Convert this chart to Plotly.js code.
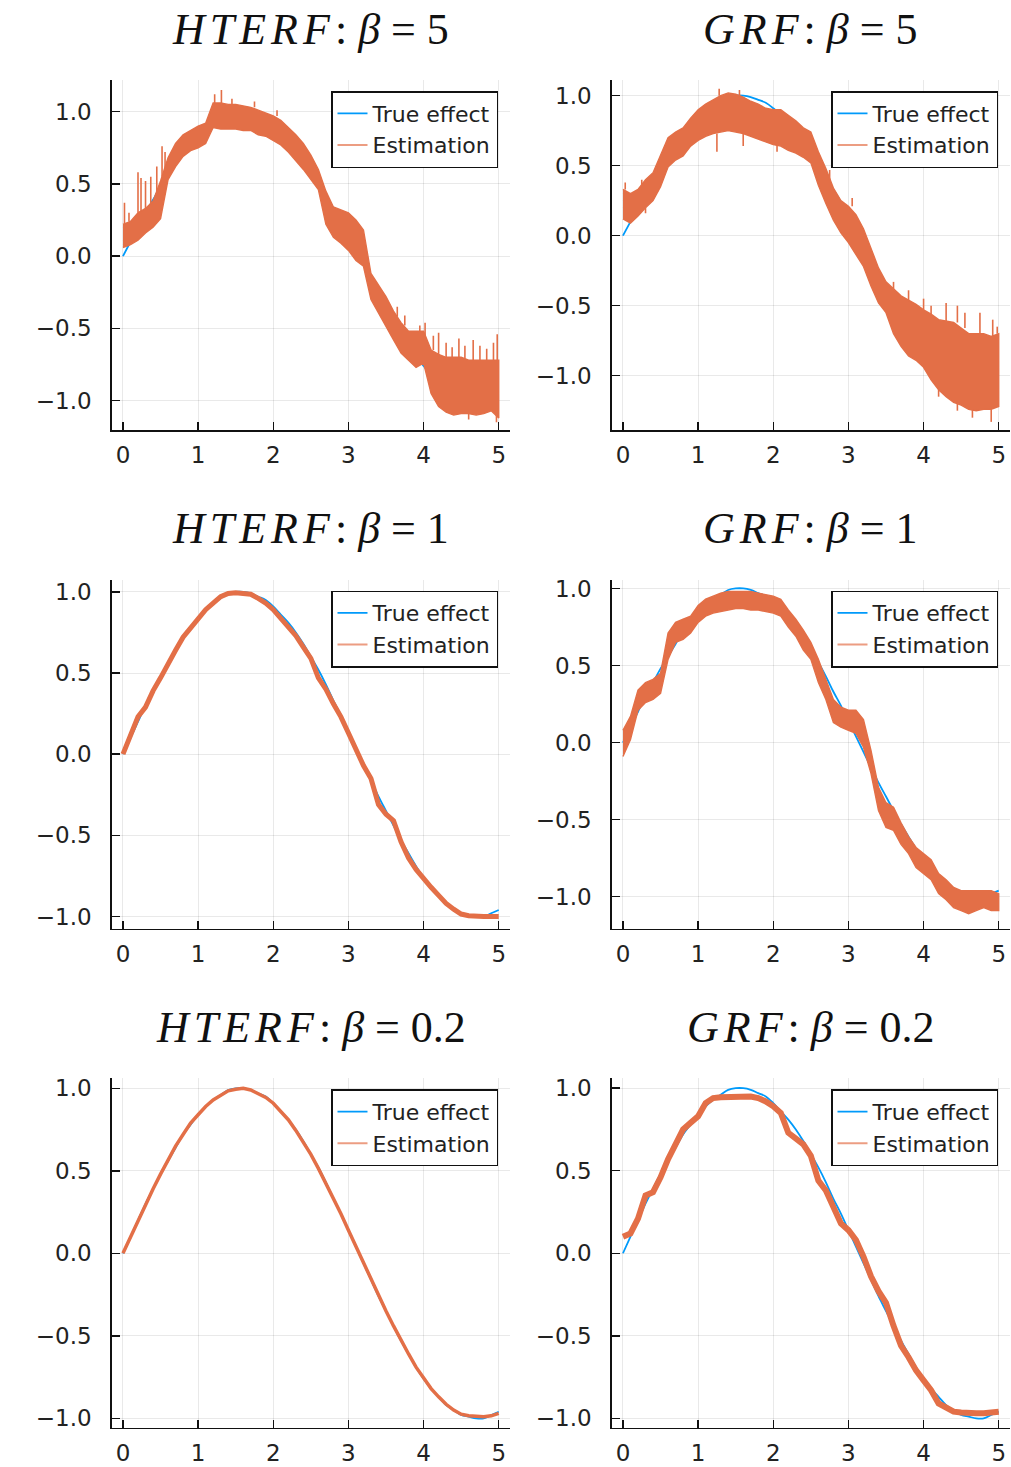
<!DOCTYPE html>
<html>
<head>
<meta charset="utf-8">
<script src="https://cdn.plot.ly/plotly-3.0.1.min.js"></script>
<style>html,body{margin:0;padding:0;background:#fff;}#chart{width:1011px;height:1467px;}</style>
</head>
<body>
<div id="chart"></div>
<script>
// ---- data ----
const xs = [0,0.1,0.2,0.3,0.4,0.5,0.6,0.7,0.8,0.9,1,1.1,1.2,1.3,1.4,1.5,1.6,1.7,1.8,1.9,2,2.1,2.2,2.3,2.4,2.5,2.6,2.7,2.8,2.9,3,3.1,3.2,3.3,3.4,3.5,3.6,3.7,3.8,3.9,4,4.1,4.2,4.3,4.4,4.5,4.6,4.7,4.8,4.9,5];

const trueEffect = [0.00,0.10,0.20,0.30,0.39,0.48,0.56,0.64,0.72,0.78,0.84,0.89,0.93,0.96,0.99,1.00,1.00,0.99,0.97,0.95,0.91,0.86,0.81,0.75,0.68,0.60,0.52,0.43,0.33,0.24,0.14,0.04,-0.06,-0.16,-0.26,-0.35,-0.44,-0.53,-0.61,-0.69,-0.76,-0.82,-0.87,-0.92,-0.95,-0.98,-0.99,-1.00,-1.00,-0.98,-0.96];

// HTERF beta = 5 : band of the noisy estimate
const hterf5Upper = [0.22,0.24,0.30,0.33,0.38,0.52,0.68,0.78,0.84,0.87,0.90,0.92,1.06,1.06,1.05,1.05,1.04,1.03,1.01,0.99,0.97,0.94,0.89,0.84,0.78,0.70,0.60,0.45,0.34,0.32,0.30,0.25,0.18,-0.12,-0.20,-0.28,-0.38,-0.46,-0.52,-0.52,-0.52,-0.65,-0.68,-0.70,-0.70,-0.70,-0.72,-0.72,-0.72,-0.72,-0.72];
const hterf5Lower = [0.06,0.08,0.11,0.16,0.20,0.26,0.53,0.62,0.69,0.73,0.75,0.78,0.89,0.88,0.88,0.88,0.87,0.87,0.84,0.83,0.80,0.77,0.72,0.66,0.60,0.53,0.46,0.22,0.13,0.09,0.04,-0.03,-0.07,-0.30,-0.40,-0.49,-0.58,-0.67,-0.72,-0.77,-0.74,-0.95,-1.04,-1.08,-1.10,-1.09,-1.09,-1.10,-1.09,-1.07,-1.12];
const hterf5SpikeX  = [0.02,0.08,0.20,0.24,0.30,0.37,0.45,0.52,0.56,1.22,1.31,1.45,1.75,2.05,3.65,3.75,3.95,4.02,4.13,4.20,4.30,4.38,4.47,4.55,4.66,4.75,4.84,4.93,4.98,4.97,4.60];
const hterf5SpikeLo = [0.22,0.24,0.30,0.31,0.33,0.36,0.42,0.55,0.60,1.06,1.06,1.05,1.03,0.97,-0.42,-0.48,-0.52,-0.55,-0.65,-0.68,-0.70,-0.70,-0.70,-0.71,-0.72,-0.72,-0.72,-0.72,-0.72,-1.05,-1.09];
const hterf5SpikeHi = [0.37,0.30,0.58,0.54,0.52,0.55,0.62,0.76,0.72,1.12,1.15,1.09,1.07,1.01,-0.35,-0.41,-0.48,-0.46,-0.55,-0.53,-0.60,-0.63,-0.57,-0.62,-0.58,-0.62,-0.64,-0.60,-0.54,-1.15,-1.13];

// GRF beta = 5
const grf5Upper = [0.33,0.30,0.33,0.40,0.45,0.57,0.70,0.74,0.77,0.84,0.90,0.94,0.97,1.00,1.02,1.01,0.99,0.96,0.94,0.91,0.90,0.90,0.86,0.82,0.77,0.74,0.60,0.48,0.34,0.25,0.21,0.15,0.05,-0.09,-0.23,-0.33,-0.38,-0.43,-0.46,-0.49,-0.53,-0.56,-0.60,-0.61,-0.62,-0.66,-0.70,-0.70,-0.70,-0.72,-0.70];
const grf5Lower = [0.12,0.09,0.14,0.20,0.25,0.35,0.49,0.54,0.57,0.64,0.68,0.71,0.73,0.74,0.75,0.74,0.73,0.71,0.69,0.67,0.65,0.64,0.61,0.59,0.56,0.52,0.36,0.23,0.11,0.02,-0.05,-0.13,-0.22,-0.36,-0.48,-0.55,-0.70,-0.79,-0.86,-0.89,-0.94,-1.03,-1.10,-1.15,-1.19,-1.21,-1.24,-1.25,-1.24,-1.24,-1.22];
const grf5SpikeX  = [0.03,0.25,0.45,0.30,1.28,1.55,1.25,1.60,2.05,2.75,3.05,3.60,3.80,4.00,4.10,4.30,4.45,4.55,4.75,4.92,4.98,4.90,4.65,4.20,4.45];
const grf5SpikeLo = [0.33,0.33,0.45,0.20,1.00,1.00,0.73,0.73,0.65,0.40,0.21,-0.38,-0.46,-0.53,-0.56,-0.61,-0.62,-0.66,-0.70,-0.72,-0.70,-1.24,-1.24,-1.10,-1.19];
const grf5SpikeHi = [0.38,0.40,0.50,0.16,1.05,1.04,0.60,0.64,0.60,0.47,0.27,-0.33,-0.39,-0.45,-0.50,-0.48,-0.50,-0.55,-0.55,-0.60,-0.65,-1.33,-1.30,-1.15,-1.25];

// HTERF beta = 1 (thin estimate)
const hterf1Est = [0.00,0.12,0.23,0.29,0.39,0.47,0.56,0.64,0.72,0.78,0.84,0.89,0.93,0.97,0.99,0.995,0.99,0.985,0.96,0.93,0.89,0.84,0.79,0.73,0.66,0.59,0.47,0.40,0.31,0.23,0.13,0.03,-0.07,-0.15,-0.31,-0.37,-0.41,-0.54,-0.64,-0.71,-0.77,-0.82,-0.87,-0.92,-0.955,-0.985,-0.995,-1.0,-1.0,-1.0,-1.0];

// GRF beta = 1 (band)
const grf1Upper = [0.08,0.17,0.34,0.39,0.41,0.45,0.71,0.78,0.80,0.82,0.89,0.93,0.95,0.97,0.98,0.98,0.98,0.98,0.97,0.96,0.95,0.93,0.86,0.80,0.73,0.65,0.54,0.41,0.28,0.23,0.21,0.21,0.15,-0.05,-0.29,-0.39,-0.42,-0.52,-0.61,-0.68,-0.72,-0.76,-0.85,-0.89,-0.94,-0.96,-0.96,-0.96,-0.96,-0.96,-0.98];
const grf1Lower = [-0.09,0.02,0.21,0.26,0.28,0.32,0.54,0.65,0.67,0.71,0.78,0.82,0.84,0.85,0.86,0.87,0.87,0.86,0.86,0.85,0.84,0.82,0.75,0.69,0.60,0.54,0.39,0.28,0.13,0.10,0.08,0.06,-0.03,-0.20,-0.44,-0.55,-0.57,-0.66,-0.72,-0.81,-0.85,-0.89,-0.98,-1.02,-1.07,-1.09,-1.11,-1.09,-1.07,-1.09,-1.09];

// HTERF beta = 0.2
const hterf02Est = [0.00,0.10,0.20,0.30,0.39,0.48,0.57,0.65,0.72,0.79,0.84,0.89,0.93,0.96,0.985,0.995,1.0,0.99,0.97,0.945,0.91,0.86,0.81,0.745,0.675,0.60,0.515,0.425,0.335,0.24,0.14,0.04,-0.06,-0.16,-0.255,-0.35,-0.44,-0.53,-0.61,-0.69,-0.755,-0.82,-0.87,-0.915,-0.95,-0.975,-0.985,-0.99,-0.99,-0.985,-0.97];

// GRF beta = 0.2
const grf02Est = [0.10,0.12,0.21,0.35,0.37,0.46,0.57,0.67,0.75,0.79,0.83,0.91,0.94,0.945,0.945,0.95,0.95,0.95,0.94,0.92,0.89,0.85,0.73,0.69,0.66,0.59,0.44,0.38,0.28,0.18,0.14,0.08,-0.02,-0.14,-0.23,-0.30,-0.44,-0.56,-0.63,-0.71,-0.77,-0.83,-0.91,-0.94,-0.96,-0.965,-0.97,-0.97,-0.97,-0.965,-0.96];

const methodNames = ['HTERF','GRF','HTERF','GRF','HTERF','GRF'];
const betaLabels = ['5','5','1','1','0.2','0.2'];
const xTicks = [0,1,2,3,4,5];
const yTicks = [-1,-0.5,0,0.5,1];
const seriesNames = ['True effect','Estimation'];

// ---- styling / layout ----
const BLUE = '#009AFA';
const ORANGE = '#E36F47';
const ORANGE_LEG = 'rgba(227,111,71,0.68)';
const W = 1011, H = 1467;

const colPx = [[111.7,510],[611.7,1010]];
const rowPx = [[80,430],[579.5,928.5],[1078.3,1427.7]];
const yRanges = [[-1.203,1.219],[-1.388,1.112],[-1.074,1.076],[-1.206,1.058],[-1.057,1.061],[-1.057,1.06]];

const panels = [
  {kind:'band', up:hterf5Upper, lo:hterf5Lower, sx:hterf5SpikeX, sl:hterf5SpikeLo, sh:hterf5SpikeHi},
  {kind:'band', up:grf5Upper, lo:grf5Lower, sx:grf5SpikeX, sl:grf5SpikeLo, sh:grf5SpikeHi},
  {kind:'line', y:hterf1Est, w:5},
  {kind:'band', up:grf1Upper, lo:grf1Lower},
  {kind:'line', y:hterf02Est, w:3.5},
  {kind:'line', y:grf02Est, w:6}
];

const traces = [];
const layout = {
  width: W, height: H,
  margin: {l:0, r:0, t:0, b:0},
  paper_bgcolor: '#fff', plot_bgcolor: '#fff',
  showlegend: true,
  annotations: []
};

panels.forEach((p, i) => {
  const n = i + 1;
  const sfx = n === 1 ? '' : String(n);
  const xa = 'x' + sfx, ya = 'y' + sfx;
  const legName = 'legend' + sfx;
  const col = i % 2, row = Math.floor(i / 2);
  const cx = colPx[col], ry = rowPx[row];

  traces.push({x: xs, y: trueEffect, xaxis: xa, yaxis: ya, type: 'scatter', mode: 'lines',
    name: seriesNames[0], legend: legName,
    line: {color: BLUE, width: 1.8, shape: 'spline'}, hoverinfo: 'skip'});

  if (p.kind === 'band') {
    const px = xs.concat(xs.slice().reverse());
    const py = p.up.concat(p.lo.slice().reverse());
    traces.push({x: px, y: py, xaxis: xa, yaxis: ya, type: 'scatter', mode: 'lines',
      fill: 'toself', fillcolor: ORANGE, line: {color: ORANGE, width: 1.4},
      showlegend: false, hoverinfo: 'skip'});
    if (p.sx) {
      const sx = [], sy = [];
      p.sx.forEach((v, k) => { sx.push(v, v, null); sy.push(p.sl[k], p.sh[k], null); });
      traces.push({x: sx, y: sy, xaxis: xa, yaxis: ya, type: 'scatter', mode: 'lines',
        line: {color: ORANGE, width: 1.6}, showlegend: false, hoverinfo: 'skip', connectgaps: false});
    }
  } else {
    traces.push({x: xs, y: p.y, xaxis: xa, yaxis: ya, type: 'scatter', mode: 'lines',
      line: {color: ORANGE, width: p.w}, showlegend: false, hoverinfo: 'skip'});
  }
  traces.push({x: [null], y: [null], xaxis: xa, yaxis: ya, type: 'scatter', mode: 'lines',
    name: seriesNames[1], legend: legName, line: {color: ORANGE_LEG, width: 2}, hoverinfo: 'skip'});

  const axCommon = {
    showline: true, linecolor: '#111', linewidth: 1.5,
    ticks: 'inside', ticklen: 8, tickwidth: 1.5, tickcolor: '#111',
    showgrid: true, gridcolor: 'rgba(0,0,0,0.085)', gridwidth: 1,
    zeroline: false, mirror: false, fixedrange: true,
    tickfont: {family: 'DejaVu Sans', size: 23, color: '#222'}
  };
  layout['xaxis' + sfx] = Object.assign({}, axCommon, {
    domain: [cx[0] / W, cx[1] / W], range: [-0.15, 5.15], anchor: ya,
    tickvals: xTicks, ticktext: xTicks.map(String), ticklabelstandoff: 4
  });
  layout['yaxis' + sfx] = Object.assign({}, axCommon, {
    domain: [1 - ry[1] / H, 1 - ry[0] / H], range: yRanges[i], anchor: xa,
    tickvals: yTicks, tickformat: '.1f', ticklabelstandoff: 14
  });
  layout[legName] = {
    x: (cx[1] - 12) / W, y: 1 - (ry[0] + 11) / H, xanchor: 'right', yanchor: 'top',
    xref: 'paper', yref: 'paper',
    bgcolor: '#fff', bordercolor: '#111', borderwidth: 1.5,
    font: {family: 'DejaVu Sans', size: 22, color: '#222'},
    tracegroupgap: 0, itemwidth: 30, itemclick: false, itemdoubleclick: false
  };
  const title = '<span style="letter-spacing:5px"><i>' + methodNames[i] + '</i></span>' +
    ': <i>β</i> = ' + betaLabels[i];
  layout.annotations.push({
    text: title, xref: 'paper', yref: 'paper',
    x: (cx[0] + cx[1]) / 2 / W, y: 1 - (ry[0] - 51) / H,
    xanchor: 'center', yanchor: 'middle', showarrow: false,
    font: {family: 'Liberation Serif', size: 44, color: '#111'}
  });
});

Plotly.newPlot('chart', traces, layout, {staticPlot: true, displayModeBar: false});
</script>
</body>
</html>
